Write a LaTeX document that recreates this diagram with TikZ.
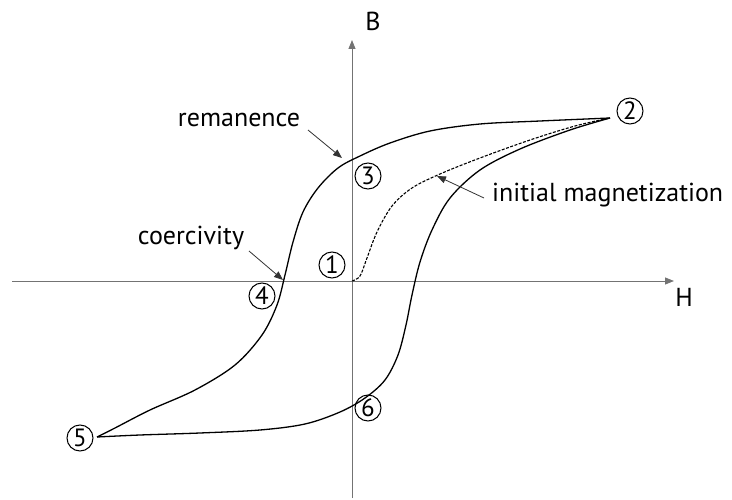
\documentclass[tikz,border=0pt]{standalone}
\usepackage{fontspec}
\setmainfont{PT Sans}
\usetikzlibrary{arrows.meta}
\begin{document}
\begin{tikzpicture}[x=1pt,y=-1pt,
  axis/.style={draw=black!55,line width=0.9pt,-{Triangle[length=9pt,width=7pt]}},
  loopline/.style={draw=black,line width=1.3pt,line join=round},
  initline/.style={draw=black,line width=1.1pt,dash pattern=on 3pt off 1.5pt},
  pointer/.style={draw=black!80,line width=0.8pt,-{Triangle[length=9pt,width=7pt]}},
  lbl/.style={font=\fontsize{26}{30}\selectfont,inner sep=1pt},
  num/.style={draw,circle,line width=1pt,minimum size=26pt,inner sep=0pt,font=\fontsize{25}{26}\selectfont}]
\useasboundingbox (0,0) rectangle (732,500);
% axes
\coordinate (bbot) at (352,498);
\coordinate (btop) at (352,40);
\coordinate (hl) at (12,281);
\coordinate (hr) at (674,281);
\draw[axis] (bbot) -- (btop);
\draw[axis] (hl) -- (hr);
\node[lbl] (B) at (373,21) {B};
\node[lbl] (H) at (684,297) {H};
% loop
\draw[loopline] plot[smooth,tension=0.55] coordinates {
 (610,118) (540,121) (480,124) (430,131) (390,143) (360,156) (338,168)
 (318,188) (303,212) (293,242) (285,275) (277,305) (262,335) (235,365)
 (195,390) (150,410) (115,428) (97,437)};
\draw[loopline] plot[smooth,tension=0.55] coordinates {
 (97,437) (140,435) (200,433) (260,430) (305,424) (340,412) (365,398)
 (385,380) (398,355) (406,325) (412,295) (420,262) (432,230) (450,198)
 (480,170) (520,149) (570,130) (610,118)};
\draw[initline] plot[smooth,tension=0.55] coordinates {
 (352,281) (360,276) (367,258) (377,232) (392,206) (412,188) (440,174)
 (480,158) (530,140) (575,126) (610,118)};
% circled numbers
\node[num] (n1) at (332,265) {1};
\node[num] (n2) at (630,111) {2};
\node[num] (n3) at (368,176) {3};
\node[num] (n4) at (262,296) {4};
\node[num] (n5) at (80,438) {5};
\node[num] (n6) at (368,408) {6};
% labels and pointers
\node[lbl,anchor=base] (rem) at (239,127) {remanence};
\node[lbl,anchor=base] (coe) at (191,245) {coercivity};
\node[lbl,anchor=base west] (ini) at (491,202) {initial magnetization};
\coordinate (remtip) at (342,158);
\coordinate (coetip) at (283,280);
\coordinate (initip) at (437,176);
\coordinate (remtail) at (308,130);
\coordinate (coetail) at (249,251);
\coordinate (initail) at (484,198);
\draw[pointer] (remtail) -- (remtip);
\draw[pointer] (coetail) -- (coetip);
\draw[pointer] (initail) -- (initip);
\end{tikzpicture}
\end{document}
